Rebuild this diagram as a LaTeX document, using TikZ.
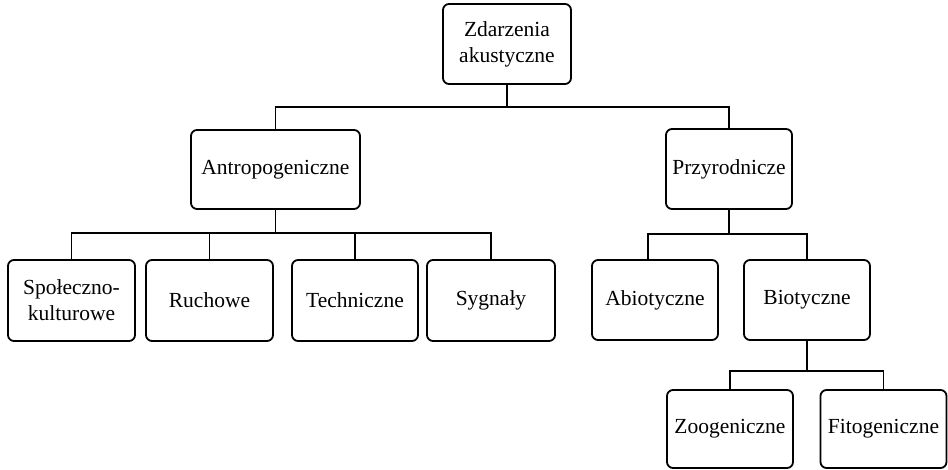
\documentclass[tikz,border=0pt]{standalone}
\usepackage{fontspec}
\setmainfont{Liberation Serif}
\usetikzlibrary{positioning}

\begin{document}
\begin{tikzpicture}
[x=1pt, y=-1pt, line width=1.8pt,
kat/.style = {shape=rectangle, rounded corners=6pt,
	draw, align=center, inner sep=0pt,
	font=\fontsize{21.5}{26}\selectfont,
	minimum width=126pt, minimum height=80pt,
},
]
\useasboundingbox (0,0) rectangle (948,470);

\node[kat, minimum width=128pt] (zdarz) at (507,44) {Zdarzenia\\akustyczne};

\node[kat, minimum width=169pt, minimum height=79pt] (antr) at (275.5,169.5) {Antropogeniczne};
\node[kat] (przy) at (729,169) {Przyrodnicze};

\node[kat, minimum width=127pt, minimum height=81pt] (spol) at (71.5,300.5) {Społeczno-\\kulturowe};
\node[kat, minimum width=127pt, minimum height=81pt] (ruch) at (209.5,300.5) {Ruchowe};
\node[kat, minimum height=81pt] (tech) at (355,300.5) {Techniczne};
\node[kat, minimum width=128pt, minimum height=81pt] (sygn) at (491,300.5) {Sygnały};

\node[kat] (abio) at (655,300) {Abiotyczne};
\node[kat] (bio) at (807,300) {Biotyczne};

\node[kat, minimum height=78pt] (zoo) at (730,429) {Zoogeniczne};
\node[kat, minimum height=78pt] (fito) at (883.5,429) {Fitogeniczne};

% connectors
\path (zdarz.south) ++(0,22) coordinate (bus1);
\draw (zdarz.south) -- (bus1);
\draw (antr.north) |- (bus1) -| (przy.north);

\path (antr.south) ++(0,23) coordinate (bus2);
\draw (antr.south) -- (bus2);
\draw (spol.north) |- (bus2) -| (sygn.north);
\draw (ruch.north) -- (ruch.north |- bus2);
\draw (tech.north) -- (tech.north |- bus2);

\path (przy.south) ++(0,24) coordinate (bus3);
\draw (przy.south) -- (bus3);
\draw ([xshift=-7pt]abio.north) |- (bus3) -| (bio.north);

\path (bio.south) ++(0,30) coordinate (bus4);
\draw (bio.south) -- (bus4);
\draw (zoo.north) |- (bus4) -| (fito.north);

\end{tikzpicture}
\end{document}
